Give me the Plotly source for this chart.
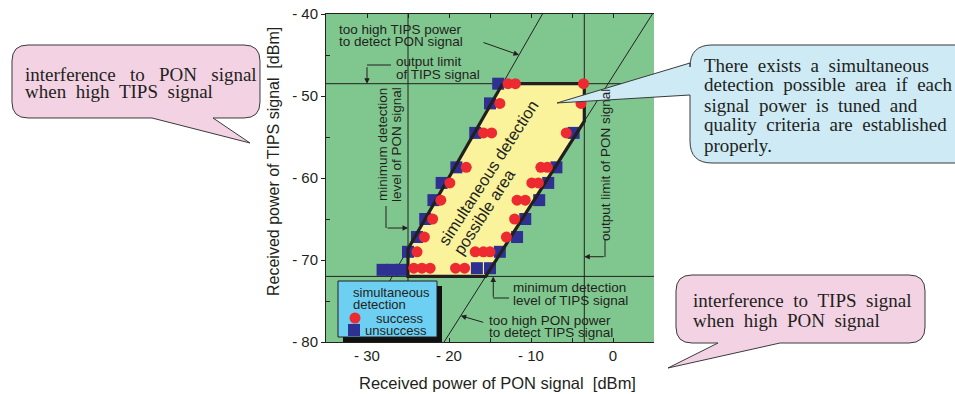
import plotly.graph_objects as go

# ---------------- axes / ticks ----------------
pon_range = [-35, 5]
tips_range = [-80, -40]
pon_tick_vals = [-30, -25, -20, -15, -10, -5, 0]
pon_tick_text = ["- 30", "", "- 20", "", "- 10", "", "0"]
tips_tick_vals = [-80, -70, -60, -50, -40]
tips_tick_text = ["- 80", "- 70", "- 60", "- 50", "- 40"]
tips_minor_vals = [-75, -65, -55, -45]
tips_right_vals = [-75, -70, -65, -60, -55, -50, -45]

# ---------------- limits (dBm) ----------------
PON_MIN = -25.0    # minimum detection level of PON signal
PON_MAX = -3.5     # output limit of PON signal
TIPS_MAX = -48.5   # output limit of TIPS signal
TIPS_MIN = -72.0   # minimum detection level of TIPS signal
too_high_tips_x = [-8.6, -31.5]
too_high_tips_y = [-40.0, -80.0]
too_high_pon_x = [4.8, -20.6]
too_high_pon_y = [-40.0, -80.0]

# ---------------- measurements ----------------
success_x = [-12.8, -11.9, -3.6,
             -13.8, -3.9,
             -15.8, -14.8, -5.7,
             -17.9, -8.8, -8.0,
             -19.9, -9.9, -9.1,
             -21.0, -11.7, -10.7,
             -22.0, -12.0,
             -23.0, -13.0,
             -23.9, -16.8, -15.8, -15.0,
             -24.3, -23.3, -22.3, -19.2, -18.1]
success_y = [-48.5, -48.5, -48.5,
             -50.9, -50.9,
             -54.5, -54.5, -54.5,
             -58.7, -58.7, -58.7,
             -60.6, -60.6, -60.6,
             -62.7, -62.7, -62.7,
             -65.0, -65.0,
             -67.2, -67.2,
             -69.0, -69.0, -69.0, -69.0,
             -71.0, -71.0, -71.0, -71.0, -71.0]
unsuccess_x = [-14.0,
               -15.0,
               -16.8, -4.8,
               -19.1, -6.9,
               -20.9, -7.9,
               -21.9, -9.0,
               -22.9, -10.7,
               -23.9, -11.7,
               -25.0, -13.8,
               -28.1, -26.9, -25.8, -16.6, -15.0]
unsuccess_y = [-48.5,
               -50.9,
               -54.5, -54.5,
               -58.7, -58.7,
               -60.6, -60.6,
               -62.7, -62.7,
               -65.0, -65.0,
               -67.2, -67.2,
               -69.0, -69.0,
               -71.2, -71.2, -71.2, -71.0, -71.0]

# ---------------- styles ----------------
GREEN = "#80C78F"
YELLOW = "#FAF39C"
RED = "#EC2A30"
NAVY = "#2E3192"
CYAN = "#6DCFF2"
PINK = "#F3D3E3"
LBLUE = "#CDEAF5"
INK = "#231F20"
SANS = "Liberation Sans, Arial, sans-serif"
SERIF = "Liberation Serif, Times New Roman, serif"

W, H = 955, 394
PL, PR, PT, PB = 326, 654, 14, 342


def fx(x):
    return (x - PL) / (PR - PL)


def fy(y):
    return (PB - y) / (PB - PT)


def x_on(lx, ly, y):
    return lx[0] + (y - ly[0]) * (lx[1] - lx[0]) / (ly[1] - ly[0])


def y_on(lx, ly, x):
    return ly[0] + (x - lx[0]) * (ly[1] - ly[0]) / (lx[1] - lx[0])


# simultaneous detection possible area
area_x = [x_on(too_high_tips_x, too_high_tips_y, TIPS_MAX), PON_MAX, PON_MAX,
          x_on(too_high_pon_x, too_high_pon_y, TIPS_MIN), PON_MIN, PON_MIN]
area_y = [TIPS_MAX, TIPS_MAX, y_on(too_high_pon_x, too_high_pon_y, PON_MAX),
          TIPS_MIN, TIPS_MIN, y_on(too_high_tips_x, too_high_tips_y, PON_MIN)]
area_x.append(area_x[0])
area_y.append(area_y[0])

fig = go.Figure()
fig.add_trace(go.Scatter(x=area_x, y=area_y, mode="none", fill="toself",
                         fillcolor=YELLOW, hoverinfo="skip"))
thin = dict(color=INK, width=1)
fig.add_trace(go.Scatter(x=pon_range, y=[TIPS_MAX, TIPS_MAX], mode="lines", line=thin))
fig.add_trace(go.Scatter(x=pon_range, y=[TIPS_MIN, TIPS_MIN], mode="lines", line=thin))
fig.add_trace(go.Scatter(x=[PON_MIN, PON_MIN], y=tips_range, mode="lines", line=thin))
fig.add_trace(go.Scatter(x=[PON_MAX, PON_MAX], y=tips_range, mode="lines", line=thin))
fig.add_trace(go.Scatter(x=too_high_tips_x, y=too_high_tips_y, mode="lines", line=thin))
fig.add_trace(go.Scatter(x=too_high_pon_x, y=too_high_pon_y, mode="lines", line=thin))
fig.add_trace(go.Scatter(x=unsuccess_x, y=unsuccess_y, mode="markers", name="unsuccess",
                         marker=dict(symbol="square", size=12, color=NAVY, line=dict(width=0))))
fig.add_trace(go.Scatter(x=area_x, y=area_y, mode="lines", line=dict(color=INK, width=3.2)))
fig.add_trace(go.Scatter(x=success_x, y=success_y, mode="markers", name="success",
                         marker=dict(symbol="circle", size=11, color=RED, line=dict(width=0))))

shapes = []
ann = []


def label(x, y, text, size=13.5, xanchor="left", angle=0, family=SANS, color=INK):
    ann.append(dict(x=fx(x), y=fy(y), xref="paper", yref="paper", text=text,
                    showarrow=False, xanchor=xanchor, yanchor="middle", textangle=angle,
                    borderpad=0, font=dict(family=family, size=size, color=color)))


def seg(x0, y0, x1, y1, width=1):
    shapes.append(dict(type="line", xref="paper", yref="paper", x0=fx(x0), y0=fy(y0),
                       x1=fx(x1), y1=fy(y1), line=dict(color=INK, width=width), layer="above"))


def arrow(xh, yh, ax, ay):
    ann.append(dict(x=xh, y=yh, xref="x", yref="y", ax=ax, ay=ay, text="", showarrow=True,
                    arrowhead=2, arrowsize=1.1, arrowwidth=1, arrowcolor=INK, standoff=0))


def bubble(x0, y0, x1, y1, r, tail, side, fill):
    P = lambda x, y: f"{fx(x):.5f},{fy(y):.5f}"
    d = [f"M{P(x0 + r, y0)}", f"L{P(x1 - r, y0)}", f"Q{P(x1, y0)} {P(x1, y0 + r)}",
         f"L{P(x1, y1 - r)}", f"Q{P(x1, y1)} {P(x1 - r, y1)}"]
    if side == "bottom":
        for (tx, ty) in tail:
            d.append(f"L{P(tx, ty)}")
    d += [f"L{P(x0 + r, y1)}", f"Q{P(x0, y1)} {P(x0, y1 - r)}"]
    if side == "left":
        for (tx, ty) in tail:
            d.append(f"L{P(tx, ty)}")
    d += [f"L{P(x0, y0 + r)}", f"Q{P(x0, y0)} {P(x0 + r, y0)}", "Z"]
    shapes.append(dict(type="path", xref="paper", yref="paper", path=" ".join(d),
                       fillcolor=fill, line=dict(color="#3a3a3a", width=1), layer="above"))


# ---- legend box ----
shapes.append(dict(type="rect", xref="paper", yref="paper", x0=fx(343), y0=fy(342), x1=fx(442), y1=fy(286),
                   fillcolor="#111111", line=dict(width=0), layer="above"))
shapes.append(dict(type="rect", xref="paper", yref="paper", x0=fx(338), y0=fy(337), x1=fx(437), y1=fy(281),
                   fillcolor=CYAN, line=dict(color=INK, width=1), layer="above"))
shapes.append(dict(type="circle", xref="paper", yref="paper", x0=fx(349.5), y0=fy(323.5), x1=fx(360.5), y1=fy(312.5),
                   fillcolor=RED, line=dict(width=0), layer="above"))
shapes.append(dict(type="rect", xref="paper", yref="paper", x0=fx(348), y0=fy(336), x1=fx(360), y1=fy(324),
                   fillcolor=NAVY, line=dict(width=0), layer="above"))
label(352, 292, "simultaneous", 13)
label(352, 304, "detection", 13)
label(375, 318, "success", 13)
label(364, 330, "unsuccess", 13)

# ---- in-plot notes ----
label(338, 29, "too high TIPS power")
label(338, 42, "to detect PON signal")
label(395, 61, "output limit")
label(395, 74, "of TIPS signal")
seg(367, 65, 391, 65)
arrow(-30, TIPS_MAX, 0, -18)

label(382, 145, "minimum detection", angle=-90, xanchor="center")
label(396, 145, "level of PON signal", angle=-90, xanchor="center")
seg(386, 206, 386, 228)
arrow(PON_MIN, -66.1, -22, 0)

label(605, 165, "output limit of PON signal", angle=-90, xanchor="center")
seg(605, 240, 605, 257)
arrow(PON_MAX, -69.6, 21, 0)

label(512, 287, "minimum detection")
label(512, 300, "level of TIPS signal")
seg(493, 298, 509, 298)
arrow(-14.6, TIPS_MIN, 0, 22)

label(488, 320, "too high PON power")
label(488, 332, "to detect TIPS signal")
arrow(x_on(too_high_pon_x, too_high_pon_y, -76.8), -76.8, 24, 7)
arrow(x_on(too_high_tips_x, too_high_tips_y, -45.0), -45.0, -37, -13)

label(488, 173, "simultaneous detection", 16.5, xanchor="center", angle=-57)
label(484, 212, "possible area", 16.5, xanchor="center", angle=-57)

# ---- axis titles ----
label(497, 383, "Received power of PON signal\u00a0\u00a0[dBm]", 16.5, xanchor="center")
label(273, 162, "Received power of TIPS signal\u00a0\u00a0[dBm]", 16, xanchor="center", angle=-90)

# ---- speech bubbles ----
N = "\u00a0"
bubble(12, 45, 260, 118, 16, [(213, 118), (250, 143), (152, 118)], "bottom", PINK)
label(24, 74, (" " + N + N).join("interference to PON signal".split()), 19, family=SERIF)
label(24, 91, (" " + N).join("when high TIPS signal".split()), 19, family=SERIF)

bubble(690, 45, 985, 163, 22, [(690, 95), (557, 103), (690, 63)], "left", LBLUE)
blue_lines = ["There exists a simultaneous", "detection possible area if each",
              "signal power is tuned and", "quality criteria are established", "properly."]
for i, t in enumerate(blue_lines):
    label(703, 65 + 20 * i, (" " + N).join(t.split()), 19, family=SERIF)

bubble(676, 275, 925, 343, 16, [(780, 343), (668, 368), (718, 343)], "bottom", PINK)
label(692, 300, (" " + N).join("interference to TIPS signal".split()), 19, family=SERIF)
label(692, 320, (" " + N).join("when high PON signal".split()), 19, family=SERIF)

fig.update_layout(
    width=W, height=H, margin=dict(l=PL, r=W - PR, t=PT, b=H - PB, autoexpand=False),
    plot_bgcolor=GREEN, paper_bgcolor="white", showlegend=False,
    shapes=shapes, annotations=ann,
    xaxis=dict(range=pon_range, tickvals=pon_tick_vals, ticktext=pon_tick_text,
               ticks="inside", ticklen=4, tickcolor=INK, showline=True, linecolor=INK,
               linewidth=1, mirror="ticks", showgrid=False, zeroline=False, automargin=False,
               tickfont=dict(family=SANS, size=15, color=INK)),
    yaxis=dict(range=tips_range, tickvals=tips_tick_vals, ticktext=tips_tick_text,
               ticks="outside", ticklen=4, tickcolor=INK, showline=True, linecolor=INK,
               linewidth=1, mirror=False, showgrid=False, zeroline=False, automargin=False,
               minor=dict(tickvals=tips_minor_vals, ticks="inside", ticklen=4, tickcolor=INK),
               tickfont=dict(family=SANS, size=15, color=INK)),
    yaxis2=dict(range=tips_range, overlaying="y", side="right", tickvals=tips_right_vals,
                showticklabels=False, ticks="inside", ticklen=4, tickcolor=INK, showline=True,
                linecolor=INK, linewidth=1, showgrid=False, zeroline=False, automargin=False),
)

fig.write_html("out.html", config={"displayModeBar": False},
               post_script="document.body.style.margin='0';")
